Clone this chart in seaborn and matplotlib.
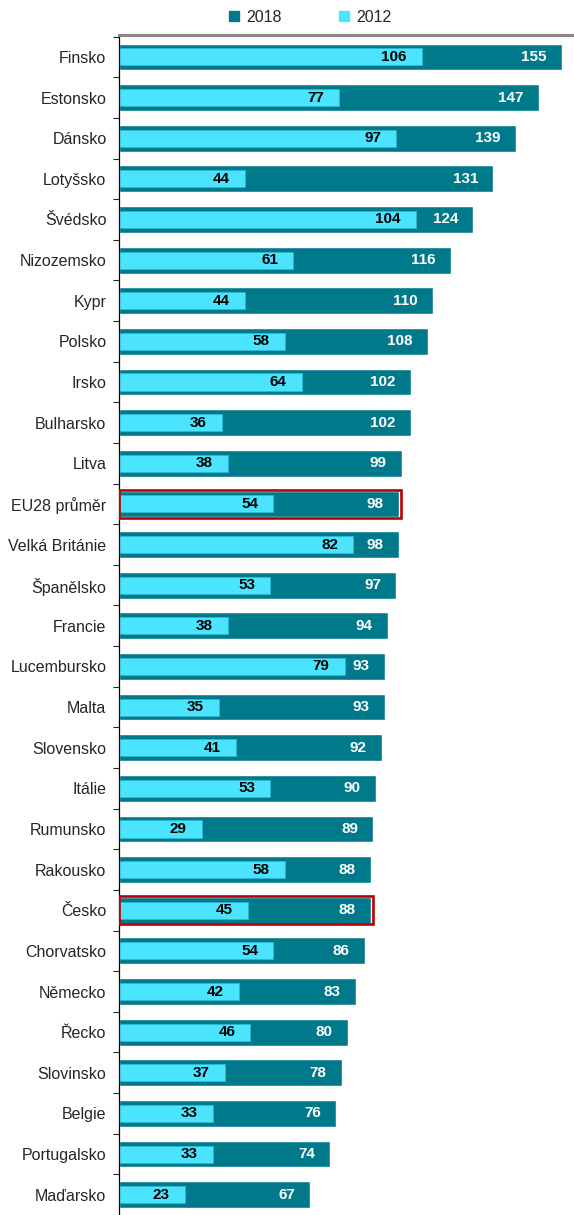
import matplotlib
matplotlib.use("Agg")
import matplotlib.pyplot as plt
import seaborn as sns
import pandas as pd
from matplotlib.patches import Rectangle
from matplotlib.lines import Line2D

countries = ["Finsko", "Estonsko", "Dánsko", "Lotyšsko", "Švédsko", "Nizozemsko", "Kypr",
             "Polsko", "Irsko", "Bulharsko", "Litva", "EU28 průměr", "Velká Británie",
             "Španělsko", "Francie", "Lucembursko", "Malta", "Slovensko", "Itálie",
             "Rumunsko", "Rakousko", "Česko", "Chorvatsko", "Německo", "Řecko",
             "Slovinsko", "Belgie", "Portugalsko", "Maďarsko"]
v2018 = [155, 147, 139, 131, 124, 116, 110, 108, 102, 102, 99, 98, 98, 97, 94, 93, 93,
         92, 90, 89, 88, 88, 86, 83, 80, 78, 76, 74, 67]
v2012 = [106, 77, 97, 44, 104, 61, 44, 58, 64, 36, 38, 54, 82, 53, 38, 79, 35, 41, 53,
         29, 58, 45, 54, 42, 46, 37, 33, 33, 23]
highlight = ["EU28 průměr", "Česko"]

df = pd.DataFrame({"country": countries, "y2018": v2018, "y2012": v2012})

sns.set_style("white")
plt.rcParams['font.family'] = ['Liberation Sans', 'DejaVu Sans']

teal = "#007A8A"
cyan = "#4AE4FF"

fig = plt.figure(figsize=(5.74, 12.15), dpi=100)
ax = fig.add_axes([119 / 574, 0, 1 - 119 / 574, 1 - 35 / 1215])

sns.barplot(data=df, x="y2018", y="country", orient="h", color=teal, width=0.66,
            saturation=1, ax=ax)
sns.barplot(data=df, x="y2012", y="country", orient="h", color=cyan, width=0.42,
            saturation=1, edgecolor="#2CB8D0", linewidth=0.6, ax=ax)

# value labels
for i, (a, b) in enumerate(zip(v2018, v2012)):
    ax.annotate(str(a), (a, i), xytext=(-11, 0), textcoords="offset points",
                ha="right", va="center", color="white", fontsize=11, fontweight="bold")
    ax.annotate(str(b), (b, i), xytext=(-11, 0), textcoords="offset points",
                ha="right", va="center", color="black", fontsize=11, fontweight="bold")

# red frames
for name in highlight:
    i = countries.index(name)
    ax.add_patch(Rectangle((0, i - 0.35), v2018[i] + 0.8, 0.70, fill=False,
                           edgecolor="#C00000", linewidth=1.9, zorder=5))

ax.set_xlim(0, 159.2)
ax.set_ylim(28.42, -0.54)
ax.set_xlabel("")
ax.set_ylabel("")
ax.set_xticks([])

ax.set_yticks(range(len(countries)))
ax.set_yticklabels(countries, fontsize=11.5)
ax.set_yticks([i + 0.5 for i in range(-1, len(countries))], minor=True)
ax.tick_params(axis="y", which="major", length=0, pad=9)
ax.tick_params(axis="y", which="minor", length=4, width=0.8, direction="out", left=True)

for s in ["right", "bottom"]:
    ax.spines[s].set_visible(False)
ax.spines["left"].set_color("black")
ax.spines["left"].set_linewidth(0.9)
ax.spines["top"].set_color("#888888")
ax.spines["top"].set_linewidth(2.2)

handles = [Line2D([], [], marker="s", linestyle="", color=teal, markersize=7),
           Line2D([], [], marker="s", linestyle="", color=cyan, markersize=7)]
fig.legend(handles, ["2018", "2012"], loc="center", bbox_to_anchor=(0.54, 1 - 17 / 1215),
           ncol=2, frameon=False, fontsize=11.5, handletextpad=0.4, columnspacing=3.6,
           handlelength=0.7)

fig.savefig("out.png", dpi=100)
